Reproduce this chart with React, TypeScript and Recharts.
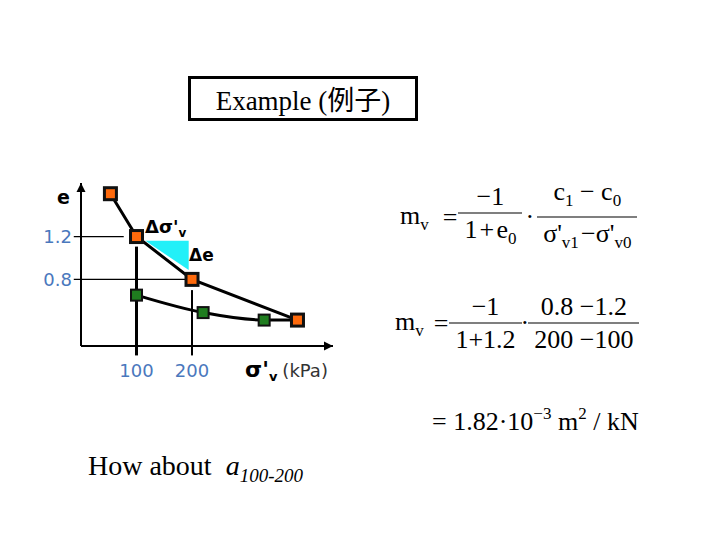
import React from "react";
import {
  ComposedChart,
  Line,
  Area,
  XAxis,
  YAxis,
  ReferenceLine,
  ReferenceDot,
} from "recharts";

// void ratio e vs effective stress (kPa)
const loadStress = [53, 100, 200, 390];
const loadVoid = [1.6, 1.2, 0.8, 0.42];
const unloadStress = [100, 220, 330, 390];
const unloadVoid = [0.653, 0.49, 0.42, 0.42];

const stressTicks = [100, 200];
const voidTicks = [0.8, 1.2];

// shaded slope triangle between 100 and 200 kPa
const triStress = [116, 194];
const triLow = [1.16, 0.887];
const triHigh = [1.16, 1.16];

const X_MAX = 454;
const Y_MIN = 0.178;
const Y_MAX = 1.7;

const loadData = loadStress.map((x, i) => ({ x, e: loadVoid[i] }));
const unloadData = unloadStress.map((x, i) => ({ x, e: unloadVoid[i] }));
const triData = triStress.map((x, i) => ({ x, tri: [triLow[i], triHigh[i]] }));

const BLUE = "#4a78bd";
const SANS = "'DejaVu Sans', Verdana, sans-serif";
const SERIF = "'Liberation Serif', 'Times New Roman', 'Noto Sans CJK SC', serif";

const OrangeSquare = (props: any) => {
  const { cx, cy, index } = props;
  return (
    <rect key={"o" + index} x={cx - 6} y={cy - 6} width={12} height={12}
      fill="#ff6a0c" stroke="#111" strokeWidth={3} />
  );
};

const GreenSquare = (props: any) => {
  const { cx, cy, index } = props;
  return (
    <rect key={"g" + index} x={cx - 5.5} y={cy - 5.5} width={11} height={11}
      fill="#1f7d1f" stroke="#111" strokeWidth={2} />
  );
};

const ArrowRight = (props: any) => {
  const { cx, cy } = props;
  return <polygon points={`${cx},${cy} ${cx - 9},${cy - 4.5} ${cx - 9},${cy + 4.5}`} fill="#000" />;
};

const ArrowUp = (props: any) => {
  const { cx, cy } = props;
  return <polygon points={`${cx},${cy} ${cx - 4.5},${cy + 9} ${cx + 4.5},${cy + 9}`} fill="#000" />;
};

const Frac = ({ top, bottom }: { top: React.ReactNode; bottom: React.ReactNode }) => (
  <span style={{ display: "inline-flex", flexDirection: "column", alignItems: "center", margin: "0 2px" }}>
    <span style={{ borderBottom: "1.5px solid #000", padding: "0 3px 2px", lineHeight: "28px", width: "100%", textAlign: "center" }}>{top}</span>
    <span style={{ padding: "2px 3px 0", lineHeight: "28px" }}>{bottom}</span>
  </span>
);

const Sub = ({ children }: { children: React.ReactNode }) => (
  <span style={{ fontSize: 17, verticalAlign: "-6px" }}>{children}</span>
);

const Sup = ({ children }: { children: React.ReactNode }) => (
  <span style={{ fontSize: 17, verticalAlign: "11px" }}>{children}</span>
);

const Dot = ({ gap }: { gap: number }) => (
  <span style={{ margin: `0 ${gap}px`, position: "relative", top: -1 }}>·</span>
);

const Row = ({ left, top, children }: { left: number; top: number; children: React.ReactNode }) => (
  <div style={{ position: "absolute", left, top, display: "flex", alignItems: "center", fontFamily: SERIF, fontSize: 26, color: "#000", whiteSpace: "nowrap", transform: "translateY(-50%)" }}>
    {children}
  </div>
);

export default function App() {
  return (
    <div style={{ position: "absolute", left: 0, top: 0, width: 720, height: 540, background: "#fff", overflow: "hidden" }}>
      <div style={{ position: "absolute", left: 188, top: 76, width: 230, height: 45, boxSizing: "border-box", border: "3px solid #000", display: "flex", alignItems: "center", justifyContent: "center", fontFamily: SERIF, fontSize: 27 }}>
        Example (例子)
      </div>

      <div style={{ position: "absolute", left: 0, top: 150 }}>
        <ComposedChart width={360} height={240} margin={{ top: 33, right: 27, left: 0, bottom: 0 }}>
          <XAxis type="number" dataKey="x" domain={[0, X_MAX]} allowDataOverflow ticks={stressTicks}
            height={44} tickSize={0} tickMargin={18} tickLine={false}
            axisLine={{ stroke: "#000", strokeWidth: 2 }}
            tick={{ fill: BLUE, fontSize: 18, fontFamily: SANS }} />
          <YAxis type="number" domain={[Y_MIN, Y_MAX]} allowDataOverflow ticks={voidTicks}
            width={81} tickSize={0} tickMargin={9} tickLine={false}
            axisLine={{ stroke: "#000", strokeWidth: 2 }}
            tickFormatter={(v: number) => v.toFixed(1)}
            tick={{ fill: BLUE, fontSize: 18, fontFamily: SANS }} />

          <ReferenceLine ifOverflow="visible" segment={[{ x: -13, y: 1.2 }, { x: 77, y: 1.2 }]} stroke="#000" strokeWidth={1.3} />
          <ReferenceLine ifOverflow="visible" segment={[{ x: -13, y: 0.8 }, { x: 191, y: 0.8 }]} stroke="#000" strokeWidth={1.3} />
          <ReferenceLine ifOverflow="visible" segment={[{ x: 100, y: 0.09 }, { x: 100, y: 1.106 }]} stroke="#000" strokeWidth={3} />
          <ReferenceLine ifOverflow="visible" segment={[{ x: 200, y: 0.09 }, { x: 200, y: 0.7 }]} stroke="#000" strokeWidth={2} />

          <Area data={triData} dataKey="tri" type="linear" fill="#22f0f8" fillOpacity={1} stroke="none" isAnimationActive={false} />

          <Line data={unloadData} dataKey="e" type="monotone" stroke="#000" strokeWidth={3} dot={GreenSquare} activeDot={false} isAnimationActive={false} />
          <Line data={loadData} dataKey="e" type="linear" stroke="#000" strokeWidth={3} dot={OrangeSquare} activeDot={false} isAnimationActive={false} />

          <ReferenceDot x={X_MAX} y={Y_MIN} ifOverflow="visible" shape={ArrowRight} />
          <ReferenceDot x={0} y={Y_MAX} ifOverflow="visible" shape={ArrowUp} />
        </ComposedChart>
      </div>

      {/* chart annotations */}
      <div style={{ position: "absolute", left: 57, top: 186, fontFamily: SANS, fontWeight: "bold", fontSize: 19 }}>e</div>
      <div style={{ position: "absolute", left: 145, top: 216, fontFamily: SANS, fontWeight: "bold", fontSize: 18, whiteSpace: "nowrap" }}>
        Δσ'<span style={{ fontSize: 12, verticalAlign: "-4px" }}>v</span>
      </div>
      <div style={{ position: "absolute", left: 189, top: 245, fontFamily: SANS, fontWeight: "bold", fontSize: 17 }}>Δe</div>
      <div style={{ position: "absolute", left: 245, top: 357, whiteSpace: "nowrap", fontFamily: SANS }}>
        <span style={{ fontWeight: "bold", fontSize: 22 }}>σ'</span>
        <span style={{ fontWeight: "bold", fontSize: 13, verticalAlign: "-4px" }}>v</span>
        <span style={{ fontSize: 18, color: "#333", marginLeft: 5 }}>(kPa)</span>
      </div>

      {/* formulas */}
      <Row left={400} top={217}>
        <span>m<Sub>v</Sub></span>
        <span style={{ margin: "0 2px 0 14px" }}>=</span>
        <Frac top={<span>−1</span>} bottom={<span>1{"\u200A"}+{"\u200A"}e<Sub>0</Sub></span>} />
        <Dot gap={4} />
        <Frac top={<span>c<Sub>1</Sub> − c<Sub>0</Sub></span>} bottom={<span>σ'<Sub>v1</Sub>{"\u200A"}−σ'<Sub>v0</Sub></span>} />
      </Row>
      <Row left={395} top={323}>
        <span>m<Sub>v</Sub></span>
        <span style={{ margin: "0 2px 0 10px" }}>=</span>
        <Frac top={<span>−1</span>} bottom={<span>1+1.2</span>} />
        <Dot gap={0} />
        <Frac top={<span>0.8 −1.2</span>} bottom={<span>200 −100</span>} />
      </Row>
      <Row left={432} top={420}>
        <span>= 1.82·10<Sup>−3</Sup> m<Sup>2</Sup> / kN</span>
      </Row>

      <div style={{ position: "absolute", left: 88, top: 450, whiteSpace: "nowrap", fontFamily: SERIF, fontSize: 28 }}>
        How about&nbsp; <i>a</i><i style={{ fontSize: 19, verticalAlign: "-7px" }}>100-200</i>
      </div>
    </div>
  );
}
